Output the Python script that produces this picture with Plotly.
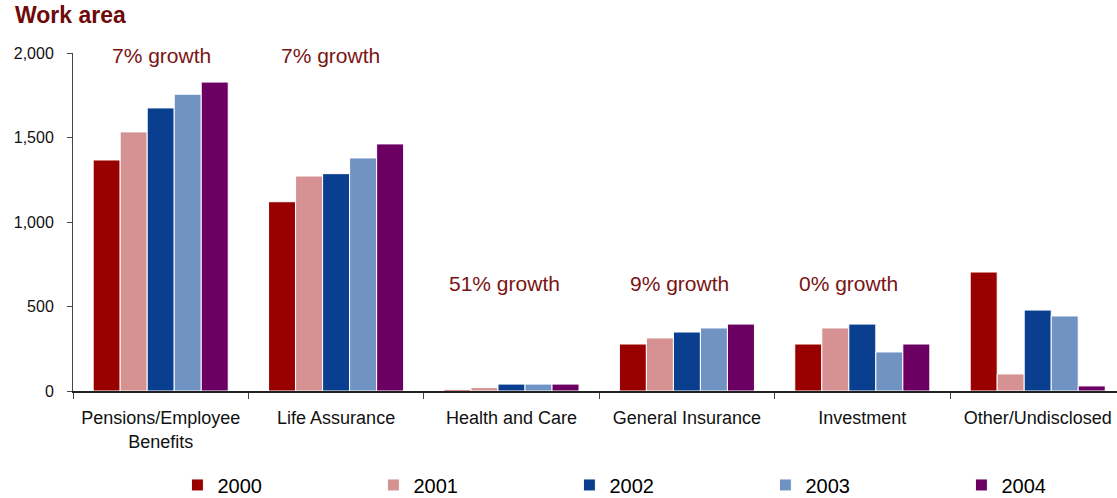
import plotly.graph_objects as go

# Work areas along the x axis
categories = ["Pensions/Employee<br>Benefits", "Life Assurance", "Health and Care",
              "General Insurance", "Investment", "Other/Undisclosed"]
years = ["2000", "2001", "2002", "2003", "2004"]

# Values per year, one entry per work area
v2000 = [1367, 1120, 8, 278, 278, 704]
v2001 = [1533, 1272, 20, 314, 373, 101]
v2002 = [1675, 1286, 41, 349, 396, 479]
v2003 = [1756, 1379, 41, 373, 231, 444]
v2004 = [1828, 1462, 41, 396, 278, 30]
series = [v2000, v2001, v2002, v2003, v2004]

colors = ["#990000", "#D69292", "#0A3F8F", "#7193C4", "#6B0062"]

# Growth labels placed above the groups
growth_text = ["7% growth", "7% growth", "51% growth", "9% growth", "0% growth"]
growth_x = [0.007, 0.968, 1.96, 2.955, 3.92]
growth_y = [1988, 1988, 639, 639, 639]

font_family = "Arial, 'Liberation Sans', sans-serif"

fig = go.Figure()
for name, vals, col in zip(years, series, colors):
    fig.add_trace(go.Bar(
        x=categories, y=vals, name=name,
        marker=dict(color=col, line=dict(color="white", width=1)),
    ))

for txt, gx, gy in zip(growth_text, growth_x, growth_y):
    fig.add_annotation(x=gx, y=gy, xref="x", yref="y", text=txt, showarrow=False,
                       font=dict(family=font_family, size=21, color="#7A1414"),
                       xanchor="center", yanchor="middle")

fig.add_annotation(text="<b>Work area</b>", xref="paper", yref="paper",
                   x=-0.0575, y=1.113, xanchor="left", yanchor="middle", showarrow=False,
                   font=dict(family=font_family, size=23, color="#6E0A0A"))

fig.update_layout(
    width=1117, height=498,
    margin=dict(l=73, r=0, t=53, b=107, autoexpand=False),
    paper_bgcolor="white", plot_bgcolor="white",
    barmode="group", bargap=0.23, bargroupgap=0,
    font=dict(family=font_family, color="black"),
    showlegend=True,
    legend=dict(orientation="h", x=0.1, y=-0.278, xanchor="left", yanchor="middle",
                entrywidth=151, entrywidthmode="pixels",
                font=dict(family=font_family, size=20, color="black"),
                bgcolor="rgba(0,0,0,0)"),
)

fig.update_xaxes(
    range=[-0.5, 5.452], showgrid=False, showline=True, linecolor="#222222", linewidth=1.5,
    ticks="outside", tickson="boundaries", ticklen=6, tickcolor="#444444",
    tickfont=dict(family=font_family, size=18, color="#111111"),
    ticklabelstandoff=10,
)
fig.update_yaxes(
    range=[0, 2000], tickvals=[0, 500, 1000, 1500, 2000], tickformat=",",
    showgrid=False, zeroline=False, showline=True, linecolor="#444444", linewidth=1,
    ticks="outside", ticklen=5, tickcolor="#444444",
    tickfont=dict(family=font_family, size=16, color="#111111"),
    ticklabelstandoff=10,
)

fig.write_html("out.html")
